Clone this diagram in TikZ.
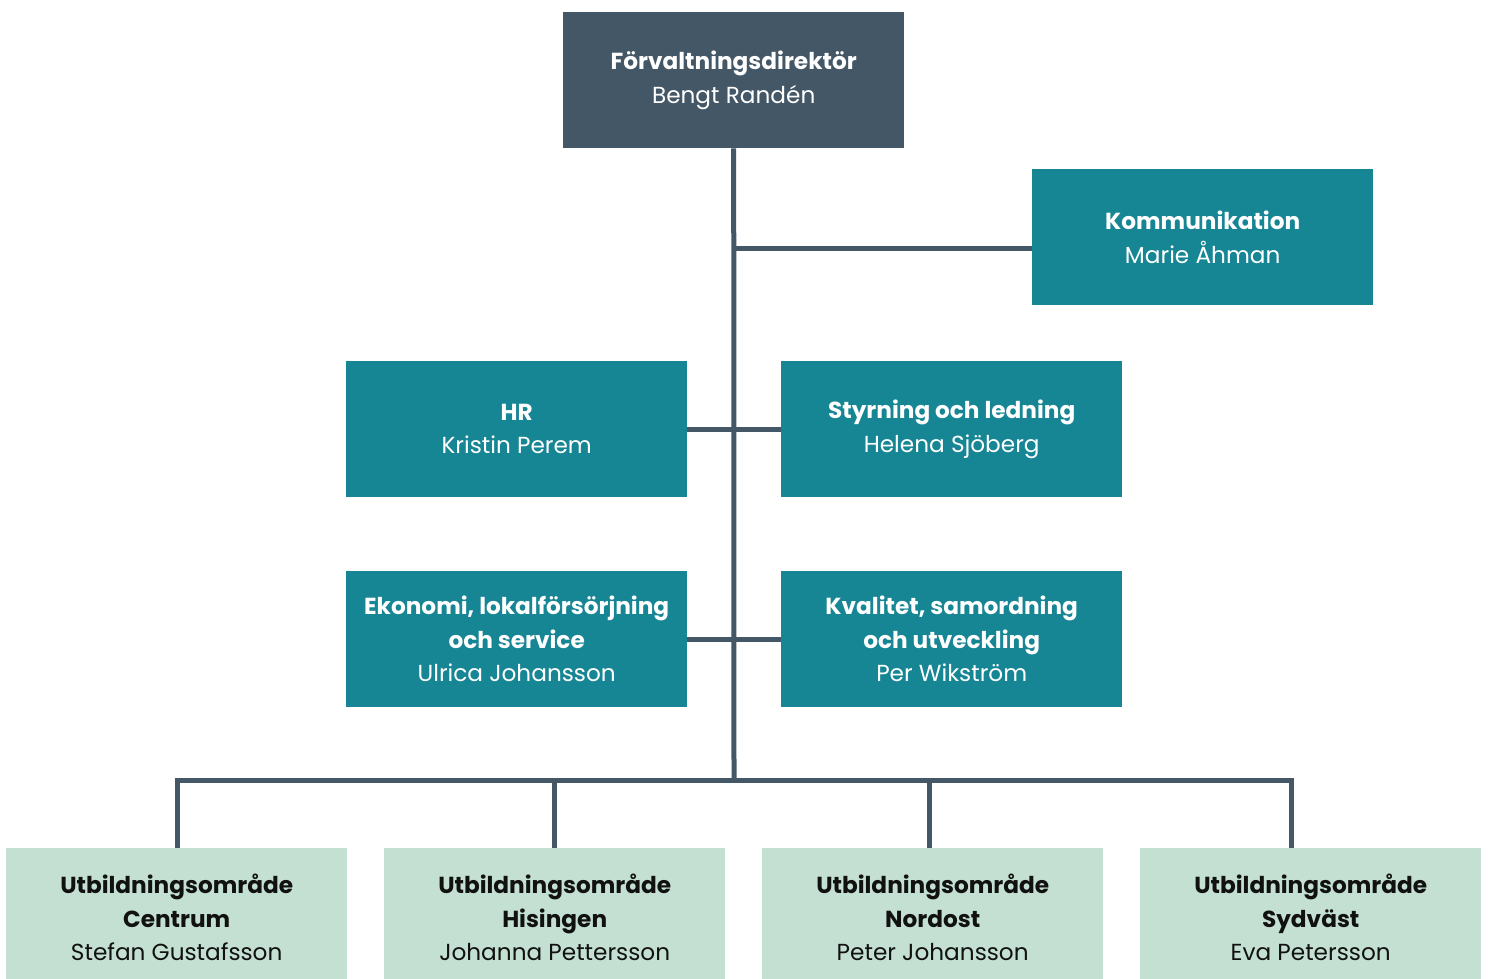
\documentclass[tikz,border=0pt]{standalone}
\usepackage{fontspec}
\setmainfont{Poppins}
\definecolor{dark}{HTML}{435766}
\definecolor{teal}{HTML}{168695}
\definecolor{mint}{HTML}{C3E0D2}
\definecolor{txt}{HTML}{111111}
\begin{document}
\begin{tikzpicture}[x=1pt,y=-1pt,
  box/.style={minimum width=341pt, minimum height=136pt, inner sep=0pt, align=center,
     font=\fontsize{23.2}{33.5}\selectfont, anchor=north west},
  topbox/.style={box, fill=dark, text=white},
  unit/.style={box, fill=teal, text=white},
  area/.style={box, fill=mint, text=txt, minimum height=139pt},
  conn/.style={draw=dark, line width=5pt}]
\useasboundingbox (0,0) rectangle (1488,979);
\node[topbox] (dir) at (563,12) {\textbf{Förvaltningsdirektör}\\Bengt Randén};
\node[unit] (kom) at (1032,169) {\textbf{Kommunikation}\\Marie Åhman};
\node[unit] (hr) at (346,361) {\textbf{HR}\\Kristin Perem};
\node[unit] (sty) at (781,361) {\textbf{Styrning och ledning}\\Helena Sjöberg};
\node[unit] (eko) at (346,571) {\textbf{Ekonomi, lokalförsörjning}\\\textbf{och service}\\Ulrica Johansson};
\node[unit] (kva) at (781,571) {\textbf{Kvalitet, samordning}\\\textbf{och utveckling}\\Per Wikström};
\node[area] (b1) at (6,848) {\textbf{Utbildningsområde}\\\textbf{Centrum}\\Stefan Gustafsson};
\node[area] (b2) at (384,848) {\textbf{Utbildningsområde}\\\textbf{Hisingen}\\Johanna Pettersson};
\node[area] (b3) at (762,848) {\textbf{Utbildningsområde}\\\textbf{Nordost}\\Peter Johansson};
\node[area] (b4) at (1140,848) {\textbf{Utbildningsområde}\\\textbf{Sydväst}\\Eva Petersson};
\coordinate (bus) at (734,780);
\coordinate (kj) at (1032,248);
\coordinate (d1) at (177,848);
\coordinate (d2) at (554,848);
\coordinate (d3) at (929,848);
\coordinate (d4) at (1291,848);
\draw[conn] (dir.south) -- (bus);
\draw[conn] (kj) -- (kj -| bus);
\draw[conn] (hr.east) -- (sty.west);
\draw[conn] (eko.east) -- (kva.west);
\draw[conn] (d1) |- (d4 |- bus) -- (d4);
\draw[conn] (d2) -- (d2 |- bus);
\draw[conn] (d3) -- (d3 |- bus);
\end{tikzpicture}
\end{document}
